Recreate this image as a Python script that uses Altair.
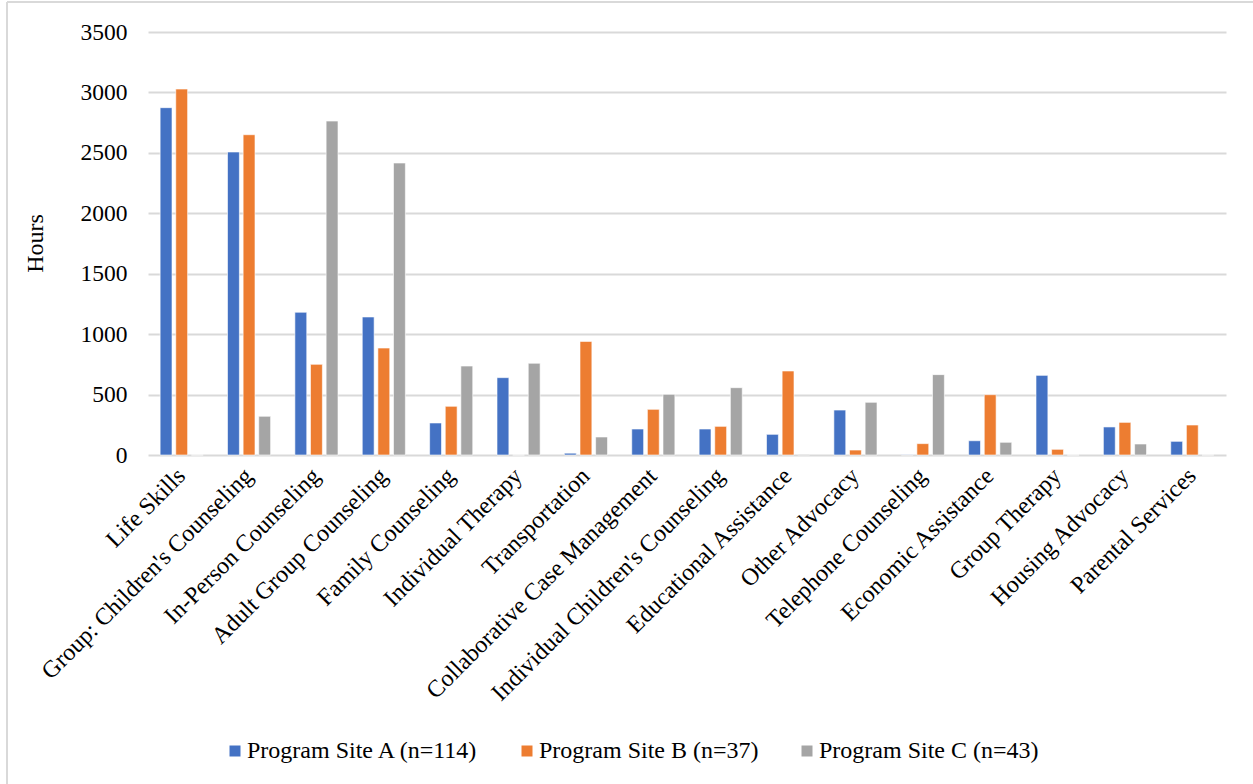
import altair as alt
import pandas as pd

categories = [
    "Life Skills", "Group: Children's Counseling", "In-Person Counseling",
    "Adult Group Counseling", "Family Counseling", "Individual Therapy",
    "Transportation", "Collaborative Case Management",
    "Individual Children's Counseling", "Educational Assistance",
    "Other Advocacy", "Telephone Counseling", "Economic Assistance",
    "Group Therapy", "Housing Advocacy", "Parental Services",
]
series = ["Program Site A (n=114)", "Program Site B (n=37)", "Program Site C (n=43)"]
site_a = [2874, 2507, 1181, 1142, 265, 640, 15, 215, 215, 171, 372, 2, 118, 659, 232, 113]
site_b = [3028, 2650, 750, 885, 403, 0, 940, 378, 237, 695, 41, 94, 499, 47, 270, 248]
site_c = [0, 320, 2763, 2416, 736, 759, 149, 502, 557, 5, 436, 665, 105, 0, 91, 0]
colors = ["#4472C4", "#ED7D31", "#A5A5A5"]

rows = []
for s, vals in zip(series, [site_a, site_b, site_c]):
    for c, v in zip(categories, vals):
        rows.append({"category": c, "series": s, "hours": v})
df = pd.DataFrame(rows)

FONT = "Liberation Serif"

bars = alt.Chart(df).mark_bar(stroke="white", strokeWidth=0.6).encode(
    x=alt.X("category:N", sort=categories,
            scale=alt.Scale(paddingInner=0.36, paddingOuter=0.18),
            axis=alt.Axis(title=None, labelAngle=-45, labelAlign="right",
                          labelBaseline="middle", labelFontSize=24,
                          labelFont=FONT, labelColor="#000000",
                          labelPadding=17, domain=False, ticks=False,
                          labelLimit=500)),
    xOffset=alt.XOffset("series:N", sort=series,
                        scale=alt.Scale(paddingInner=0.24)),
    y=alt.Y("hours:Q", scale=alt.Scale(domain=[0, 3500]),
            axis=alt.Axis(title="Hours", values=[0, 500, 1000, 1500, 2000, 2500, 3000, 3500],
                          format="d",
                          labelFontSize=23.5, labelFont=FONT, labelColor="#000000",
                          labelPadding=21, domain=False, ticks=False,
                          gridColor="#D9D9D9", gridWidth=1.8,
                          titleFont=FONT, titleFontSize=24, titleFontWeight="normal",
                          titleColor="#000000", titleX=-113, titleY=211,
                          titleAlign="center", titleBaseline="middle", titleAngle=-90)),
    color=alt.Color("series:N", sort=series,
                    scale=alt.Scale(domain=series, range=colors),
                    legend=alt.Legend(title=None, orient="none", direction="horizontal",
                                      legendX=75, legendY=707,
                                      symbolType="square", symbolSize=121,
                                      symbolStrokeWidth=0, labelFont=FONT,
                                      labelFontSize=24, labelColor="#000000",
                                      columnPadding=36, labelOffset=0,
                                      labelLimit=500)),
)

border = alt.Chart(pd.DataFrame({"k": [0]})).mark_rule(color="#D9D9D9", strokeWidth=2).encode(
    x=alt.value(-141), y=alt.value(-30), y2=alt.value(760)
)
border_top = alt.Chart(pd.DataFrame({"k": [0]})).mark_rule(color="#D9D9D9", strokeWidth=2).encode(
    x=alt.value(-141), x2=alt.value(1110), y=alt.value(-30)
)

chart = alt.layer(bars, border, border_top).properties(
    width=1078, height=423,
    autosize=alt.AutoSizeParams(type="none"),
    padding={"left": 148, "top": 32, "right": 27, "bottom": 329},
    background="white",
).configure_view(stroke=None)

chart.save("out.html", embed_options={"renderer": "svg", "actions": False})
